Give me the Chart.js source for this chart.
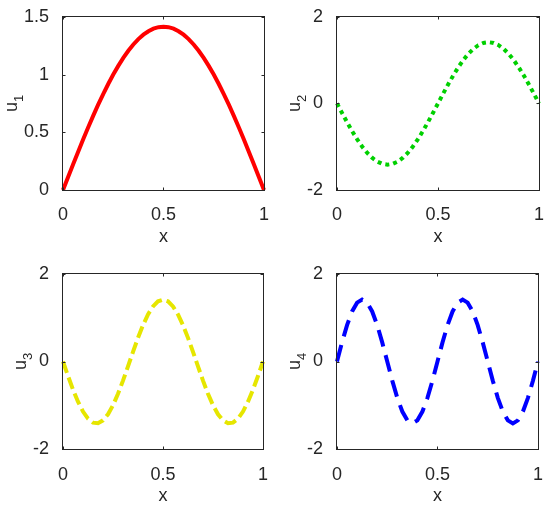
<!DOCTYPE html>
<html><head><meta charset="utf-8">
<script src="https://cdn.jsdelivr.net/npm/chart.js@4.4.1/dist/chart.umd.min.js"></script>
<style>
html,body{margin:0;padding:0;background:#fff;}
#wrap{position:relative;width:550px;height:508px;overflow:hidden;background:#fff}
.cell{position:absolute;width:275px;height:254px}
canvas{display:block}
</style></head><body>
<div id="wrap">
<div class="cell" style="left:0;top:0"><canvas id="c1" width="275" height="254" style="width:275px;height:254px"></canvas></div>
<div class="cell" style="left:275px;top:0"><canvas id="c2" width="275" height="254" style="width:275px;height:254px"></canvas></div>
<div class="cell" style="left:0;top:254px"><canvas id="c3" width="275" height="254" style="width:275px;height:254px"></canvas></div>
<div class="cell" style="left:275px;top:254px"><canvas id="c4" width="275" height="254" style="width:275px;height:254px"></canvas></div>
</div>
<script>
// ---- data ----
const xs = [0,0.025,0.05,0.075,0.1,0.125,0.15,0.175,0.2,0.225,0.25,0.275,0.3,0.325,0.35,0.375,0.4,0.425,0.45,0.475,0.5,
            0.525,0.55,0.575,0.6,0.625,0.65,0.675,0.7,0.725,0.75,0.775,0.8,0.825,0.85,0.875,0.9,0.925,0.95,0.975,1];
const u1 = [0,0.111,0.221,0.330,0.437,0.541,0.642,0.739,0.831,0.918,1.000,1.075,1.144,1.206,1.260,1.307,1.345,1.375,1.397,1.410,1.414,
            1.410,1.397,1.375,1.345,1.307,1.260,1.206,1.144,1.075,1.000,0.918,0.831,0.739,0.642,0.541,0.437,0.330,0.221,0.111,0];
const u2 = [0,-0.221,-0.437,-0.642,-0.831,-1.000,-1.144,-1.260,-1.345,-1.397,-1.414,-1.397,-1.345,-1.260,-1.144,-1.000,-0.831,-0.642,-0.437,-0.221,0,
            0.221,0.437,0.642,0.831,1.000,1.144,1.260,1.345,1.397,1.414,1.397,1.345,1.260,1.144,1.000,0.831,0.642,0.437,0.221,0];
const u3 = [0,-0.330,-0.642,-0.918,-1.144,-1.307,-1.397,-1.410,-1.345,-1.206,-1.000,-0.739,-0.437,-0.111,0.221,0.541,0.831,1.075,1.260,1.375,1.414,
            1.375,1.260,1.075,0.831,0.541,0.221,-0.111,-0.437,-0.739,-1.000,-1.206,-1.345,-1.410,-1.397,-1.307,-1.144,-0.918,-0.642,-0.330,0];
const u4 = [0,0.437,0.831,1.144,1.345,1.414,1.345,1.144,0.831,0.437,0,-0.437,-0.831,-1.144,-1.345,-1.414,-1.345,-1.144,-0.831,-0.437,0,
            0.437,0.831,1.144,1.345,1.414,1.345,1.144,0.831,0.437,0,-0.437,-0.831,-1.144,-1.345,-1.414,-1.345,-1.144,-0.831,-0.437,0];
const xTicks = [0,0.5,1];
const yTicks1 = [0,0.5,1,1.5];
const yTicksN = [-2,0,2];
const yLabels = ['1','2','3','4'];

// ---- drawing ----
const FONT = "'Liberation Sans', Arial, Helvetica, sans-serif";
const INK = '#262626';

const framePlugin = {
  id: 'frame',
  afterDraw(chart, args, o) {
    const {ctx, chartArea: a, scales: {x, y}} = chart;
    ctx.save();
    ctx.strokeStyle = INK; ctx.lineWidth = 1;
    const L = Math.round(a.left) - 0.5, R = Math.round(a.right) + 0.5;
    const T = Math.round(a.top) - 0.5, B = Math.round(a.bottom) + 0.5;
    ctx.strokeRect(L, T, R - L, B - T);
    ctx.beginPath();
    const tl = 3;
    x.ticks.forEach(t => {
      const p = Math.round(x.getPixelForValue(t.value)) + 0.5;
      ctx.moveTo(p, B); ctx.lineTo(p, B - tl);
      ctx.moveTo(p, T); ctx.lineTo(p, T + tl);
    });
    y.ticks.forEach(t => {
      const p = Math.round(y.getPixelForValue(t.value)) + 0.5;
      ctx.moveTo(L, p); ctx.lineTo(L + tl, p);
      ctx.moveTo(R, p); ctx.lineTo(R - tl, p);
    });
    ctx.stroke();
    // y axis title with subscript
    ctx.fillStyle = INK;
    ctx.translate(o.baseX, (a.top + a.bottom) / 2);
    ctx.rotate(-Math.PI / 2);
    ctx.textBaseline = 'alphabetic';
    ctx.font = '18px ' + FONT;
    const wU = ctx.measureText('u').width;
    ctx.font = '13px ' + FONT;
    const wS = ctx.measureText(o.sub).width;
    const start = -(wU + wS) / 2;
    ctx.font = '18px ' + FONT;
    ctx.textAlign = 'left';
    ctx.fillText('u', start, 0);
    ctx.font = '13px ' + FONT;
    ctx.fillText(o.sub, start + wU, 6);
    ctx.restore();
  }
};

const fmt = v => String(v);

function make(id, values, yTicks, ymin, ymax, style, lay) {
  const ctx = document.getElementById(id);
  new Chart(ctx, {
    type: 'line',
    data: {
      datasets: [{
        data: xs.map((v, i) => ({x: v, y: values[i]})),
        borderColor: style.color,
        borderWidth: style.width,
        borderDash: style.dash,
        borderCapStyle: style.cap || 'butt',
        pointRadius: 0,
        tension: 0,
        fill: false,
        clip: false
      }]
    },
    options: {
      responsive: false,
      animation: false,
      events: [],
      layout: {autoPadding: false, padding: {top: lay.top, right: 11, left: 0, bottom: 0}},
      plugins: {legend: {display: false}, tooltip: {enabled: false}, frame: {baseX: lay.titleX, sub: lay.sub}},
      scales: {
        x: {
          type: 'linear', min: 0, max: 1,
          afterBuildTicks: s => { s.ticks = xTicks.map(v => ({value: v})); },
          afterFit: s => { s.height = lay.xh; },
          grid: {display: false}, border: {display: false},
          ticks: {color: INK, font: {family: FONT, size: 18}, padding: lay.lpad, maxRotation: 0, autoSkip: false, callback: fmt},
          title: {display: true, text: 'x', color: INK, font: {family: FONT, size: 18}, padding: {top: 0, bottom: lay.tpad}}
        },
        y: {
          type: 'linear', min: ymin, max: ymax,
          afterBuildTicks: s => { s.ticks = yTicks.map(v => ({value: v})); },
          afterFit: s => { s.width = lay.yw; },
          grid: {display: false}, border: {display: false},
          ticks: {color: INK, font: {family: FONT, size: 18}, padding: 6, autoSkip: false, callback: fmt}
        }
      }
    },
    plugins: [framePlugin]
  });
}

make('c1', u1, yTicks1, 0, 1.5, {color: '#ff0000', width: 4, dash: []},
     {top: 15, xh: 64, yw: 63, titleX: 17, sub: yLabels[0], tpad: 6, lpad: 6});
make('c2', u2, yTicksN, -2, 2, {color: '#00d000', width: 4, dash: [4, 4]},
     {top: 15, xh: 64, yw: 62, titleX: 25, sub: yLabels[1], tpad: 6, lpad: 6});
make('c3', u3, yTicksN, -2, 2, {color: '#e6e600', width: 4, dash: [12, 5]},
     {top: 20, xh: 59, yw: 63, titleX: 26, sub: yLabels[2], tpad: 1, lpad: 7});
make('c4', u4, yTicksN, -2, 2, {color: '#0000ff', width: 4, dash: [17, 9]},
     {top: 20, xh: 59, yw: 62, titleX: 25, sub: yLabels[3], tpad: 1, lpad: 7});
</script>
</body></html>
